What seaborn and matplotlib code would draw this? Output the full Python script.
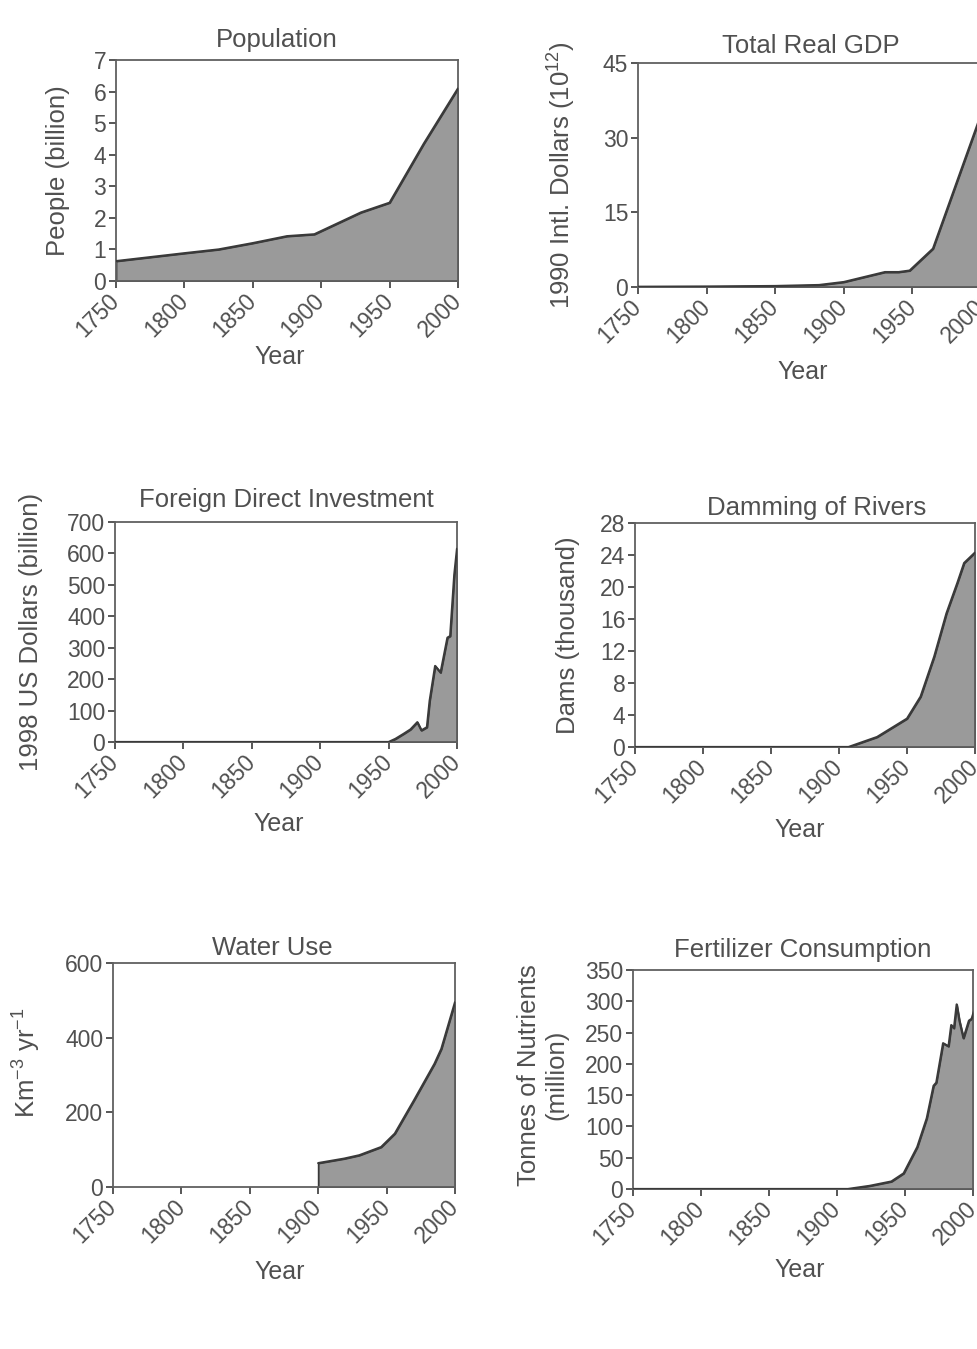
import matplotlib
matplotlib.use("Agg")
import matplotlib.pyplot as plt
import seaborn as sns
import pandas as pd

# Population (billion)
pop_years = [1750, 1800, 1825, 1850, 1875, 1895, 1929, 1950, 1975, 2000]
pop_vals = [0.63, 0.88, 1.0, 1.2, 1.42, 1.48, 2.17, 2.48, 4.35, 6.1]

# Total real GDP (10^12 1990 Intl. dollars)
gdp_years = [1750, 1800, 1850, 1882, 1900, 1930, 1940, 1948, 1965, 2001]
gdp_vals = [0.05, 0.1, 0.2, 0.4, 1.0, 3.0, 3.0, 3.3, 7.7, 35.4]

# Foreign direct investment (1998 US$ billion)
fdi_years = [1750, 1950, 1955, 1961, 1966, 1971, 1974, 1978, 1980, 1984, 1988, 1993, 1995, 1998, 2000]
fdi_vals = [0, 0, 10, 26, 40, 63, 37, 47, 131, 242, 221, 332, 337, 532, 615]

# Damming of rivers (thousand dams)
dam_years = [1750, 1907, 1928, 1950, 1960, 1970, 1979, 1987, 1992, 2000]
dam_vals = [0, 0, 1.25, 3.55, 6.3, 11.3, 16.7, 20.5, 23.0, 24.3]

# Water use (km^3 / yr)
water_years = [1900, 1919, 1930, 1946, 1956, 1970, 1985, 1990, 2000]
water_vals = [64, 76, 85, 107, 143, 232, 330, 370, 495]

# Fertilizer consumption (million tonnes of nutrients)
fert_years = [1750, 1908, 1924, 1940, 1949, 1959, 1966, 1971, 1973, 1978, 1982,
              1984, 1986, 1988, 1990, 1993, 1997, 1999, 2002]
fert_vals = [0, 0, 5, 12, 25, 67, 113, 165, 170, 233, 228, 262, 257, 295,
             269, 241, 269, 272, 293]

titles = ["Population", "Total Real GDP", "Foreign Direct Investment",
          "Damming of Rivers", "Water Use", "Fertilizer Consumption"]
ylabels = ["People (billion)", r"1990 Intl. Dollars (10$^{12}$)",
           "1998 US Dollars (billion)", "Dams (thousand)",
           r"Km$^{-3}$ yr$^{-1}$", "Tonnes of Nutrients\n(million)"]
yticks = [list(range(0, 8)), [0, 15, 30, 45], list(range(0, 701, 100)),
          list(range(0, 29, 4)), [0, 200, 400, 600], list(range(0, 351, 50))]
xticks = [1750, 1800, 1850, 1900, 1950, 2000]

series = [(pop_years, pop_vals), (gdp_years, gdp_vals), (fdi_years, fdi_vals),
          (dam_years, dam_vals), (water_years, water_vals), (fert_years, fert_vals)]

W, H = 978, 1349
# pixel boxes: left, right, top, bottom
boxes = [(116, 458, 60, 281), (638, 981, 63, 287),
         (115, 457, 522, 742), (635, 975, 523, 747),
         (113, 455, 963, 1187), (633, 973, 970, 1189)]
ylab_xy = [(-0.135, 0.5), (-0.175, 0.5), (-0.21, 0.5),
           (-0.162, 0.5), (-0.205, 0.554), (-0.19, 0.52)]
xlab_xy = [(0.48, -0.29), (0.48, -0.326), (0.48, -0.318),
           (0.485, -0.317), (0.488, -0.326), (0.49, -0.315)]
title_x = [0.47, 0.505, 0.5, 0.535, 0.465, 0.5]
title_pad = [9, 7, 11, 6, 6, 9]

sns.set_style("white")
plt.rcParams['font.family'] = ['Liberation Sans', 'DejaVu Sans']
plt.rcParams['mathtext.fontset'] = 'custom'
plt.rcParams['mathtext.rm'] = 'Liberation Sans'
plt.rcParams['mathtext.it'] = 'Liberation Sans'

txt = '#505050'
edge = '#3a3a3a'
fill = '#9a9a9a'

fig = plt.figure(figsize=(W / 100, H / 100), dpi=100)

for i in range(6):
    l, r, t, b = boxes[i]
    ax = fig.add_axes([l / W, 1 - b / H, (r - l) / W, (b - t) / H])
    yrs, vals = series[i]
    df = pd.DataFrame({'Year': yrs, 'v': vals})
    ax.fill_between(df['Year'], df['v'], 0, color=fill, edgecolor=edge,
                    linewidth=1.3, zorder=2)
    sns.lineplot(data=df, x='Year', y='v', ax=ax, color=edge, linewidth=1.6,
                 zorder=3)
    ax.set_xlim(1750, 2000)
    ax.set_ylim(0, yticks[i][-1])
    ax.set_xticks(xticks)
    ax.set_yticks(yticks[i])
    ax.set_xticklabels([str(x) for x in xticks], rotation=45, ha='right',
                       va='center', rotation_mode='anchor')
    ax.tick_params(axis='both', direction='out', length=5, width=1.2,
                   colors=edge, labelcolor=txt, labelsize=16.5, pad=2,
                   left=True, bottom=True)
    ax.tick_params(axis='x', pad=7)
    for s in ax.spines.values():
        s.set_color('#606060')
        s.set_linewidth(1.3)
    ax.set_title(titles[i], fontsize=18.5, color=txt, x=title_x[i],
                 pad=title_pad[i])
    ax.set_ylabel(ylabels[i], fontsize=18.5, color=txt)
    ax.set_xlabel('Year', fontsize=18, color=txt)
    ax.yaxis.set_label_coords(*ylab_xy[i])
    ax.xaxis.set_label_coords(*xlab_xy[i])

fig.savefig('out.png', dpi=100, facecolor='white')
